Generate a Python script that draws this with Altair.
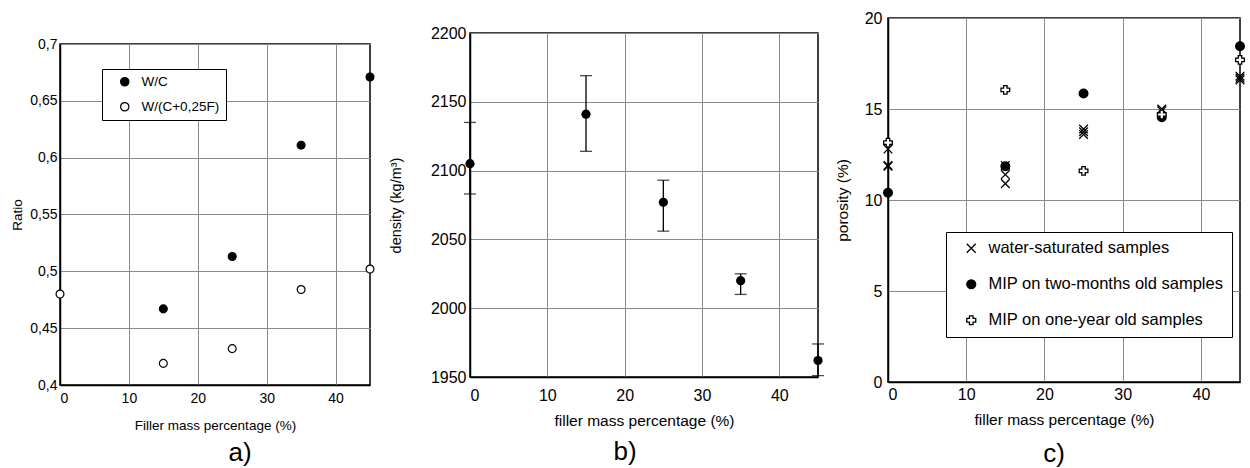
import altair as alt
import pandas as pd

FONT = "Liberation Sans"

# ---------------- data ----------------
# panel a
a_wc_filler = [15, 25, 35, 45]
a_wc = [0.467, 0.513, 0.611, 0.671]
a_wcf_filler = [0, 15, 25, 35, 45]
a_wcf = [0.480, 0.419, 0.432, 0.484, 0.502]
a_series = ["W/C", "W/(C+0,25F)"]
a_yticks = [0.4, 0.45, 0.5, 0.55, 0.6, 0.65, 0.7]

# panel b
b_filler = [0, 15, 25, 35, 45]
b_density = [2105, 2141, 2077, 2020, 1962]
b_low = [2083, 2114, 2056, 2010, 1951]
b_high = [2135, 2169, 2093, 2025, 1974]
b_yticks = [1950, 2000, 2050, 2100, 2150, 2200]

# panel c
c_ws_filler = [0, 0, 0, 15, 15, 15, 25, 25, 25, 35, 35, 45, 45, 45]
c_ws = [12.8, 11.9, 11.85, 11.9, 11.4, 10.9, 13.9, 13.75, 13.6, 15.0, 14.9, 16.8, 16.6, 16.7]
c_mip_filler = [0, 15, 25, 35, 45]
c_mip2 = [10.4, 11.85, 15.85, 14.55, 18.45]
c_mip1 = [13.15, 16.05, 11.6, 14.7, 17.7]
c_series = ["water-saturated samples", "MIP on two-months old samples", "MIP on one-year old samples"]
c_yticks = [0, 5, 10, 15, 20]

x_ticks = [0, 10, 20, 30, 40]


# ---------------- helpers ----------------
def spacer(h):
    return alt.Chart(pd.DataFrame({"v": [0]}), view=alt.ViewBackground(stroke="transparent")).mark_point(
        opacity=0, size=1
    ).encode(
        x=alt.X("v:Q", axis=None), y=alt.Y("v:Q", axis=None)
    ).properties(width=1, height=h)


# ---------------- panel a ----------------
df_a = pd.DataFrame({
    "fa": a_wc_filler + a_wcf_filler,
    "ratio": a_wc + a_wcf,
    "sa": [a_series[0]] * len(a_wc) + [a_series[1]] * len(a_wcf),
})
ax_a = alt.Axis(values=x_ticks, title="Filler mass percentage (%)", labelFontSize=14,
                titleFontSize=13.5, labelPadding=6, titlePadding=13)
ay_a = alt.Axis(values=a_yticks, title="Ratio", labelFontSize=14, titleFontSize=13.5,
                labelPadding=3, titlePadding=5,
                labelExpr="replace(format(datum.value, '.2~f'), '.', ',')")
leg_a = alt.Legend(title=None, orient="none", legendX=42, legendY=25,
                   fillColor="white", strokeColor="black", padding=6,
                   symbolOffset=10, labelFontSize=13.5, labelFont=FONT,
                   labelColor="black", rowPadding=10, symbolType="circle",
                   symbolStrokeWidth=1.2, symbolSize=70, labelOffset=10, labelLimit=300)
chart_a = alt.Chart(df_a).mark_point(filled=True, shape="circle", size=62,
                                     strokeWidth=1.2, opacity=1).encode(
    x=alt.X("fa:Q", scale=alt.Scale(domain=[0, 45], nice=False, zero=False), axis=ax_a),
    y=alt.Y("ratio:Q", scale=alt.Scale(domain=[0.4, 0.7], nice=False, zero=False), axis=ay_a),
    fill=alt.Fill("sa:N", scale=alt.Scale(domain=a_series, range=["black", "white"]), legend=leg_a),
    stroke=alt.Stroke("sa:N", scale=alt.Scale(domain=a_series, range=["black", "black"]), legend=leg_a),
).properties(
    width=310, height=341,
    title=alt.TitleParams("a)", orient="bottom", fontSize=26, frame="group", dx=25, offset=8),
)

# ---------------- panel b ----------------
df_b = pd.DataFrame({"fb": b_filler, "dens": b_density, "lo": b_low, "hi": b_high})
ax_b = alt.Axis(values=x_ticks, title="filler mass percentage (%)", labelFontSize=16,
                titleFontSize=15.5, labelPadding=10, titlePadding=10)
ay_b = alt.Axis(values=b_yticks, title="density (kg/m³)", labelFontSize=16, format="d",
                titleFontSize=14.5, labelPadding=4, titlePadding=27)
xs_b = alt.Scale(domain=[0, 45], nice=False, zero=False)
ys_b = alt.Scale(domain=[1950, 2200], nice=False, zero=False)
base_b = alt.Chart(df_b)
rule_b = base_b.mark_rule(color="black", strokeWidth=1.3).encode(
    x=alt.X("fb:Q", scale=xs_b, axis=ax_b),
    y=alt.Y("lo:Q", scale=ys_b, axis=ay_b),
    y2="hi:Q",
)
cap_lo = base_b.mark_tick(orient="horizontal", size=12, thickness=1.3, color="black").encode(
    x=alt.X("fb:Q", scale=xs_b, axis=ax_b),
    y=alt.Y("lo:Q", scale=ys_b, axis=ay_b),
)
cap_hi = base_b.mark_tick(orient="horizontal", size=12, thickness=1.3, color="black").encode(
    x=alt.X("fb:Q", scale=xs_b, axis=ax_b),
    y=alt.Y("hi:Q", scale=ys_b, axis=ay_b),
)
pts_b = base_b.mark_point(filled=True, shape="circle", size=85, color="black", opacity=1).encode(
    x=alt.X("fb:Q", scale=xs_b, axis=ax_b),
    y=alt.Y("dens:Q", scale=ys_b, axis=ay_b),
)
chart_b = alt.layer(rule_b, cap_lo, cap_hi, pts_b).properties(
    width=348, height=344,
    title=alt.TitleParams("b)", orient="bottom", fontSize=26, frame="group", dx=-19, offset=10),
)

# ---------------- panel c ----------------
df_c = pd.DataFrame({
    "fc": c_ws_filler + c_mip_filler + c_mip_filler,
    "por": c_ws + c_mip2 + c_mip1,
    "sc": [c_series[0]] * len(c_ws) + [c_series[1]] * len(c_mip2) + [c_series[2]] * len(c_mip1),
})
ax_c = alt.Axis(values=x_ticks, title="filler mass percentage (%)", labelFontSize=16,
                titleFontSize=15.5, labelPadding=4, titlePadding=10)
ay_c = alt.Axis(values=c_yticks, title="porosity (%)", labelFontSize=16,
                titleFontSize=15.5, labelPadding=6, titlePadding=14)
leg_c = alt.Legend(title=None, orient="none", legendX=58, legendY=214, fillColor="white",
                   strokeColor="black", padding=8, symbolOffset=9, labelFontSize=16.5,
                   labelFont=FONT, labelColor="black", rowPadding=19,
                   symbolStrokeWidth=1.3, symbolSize=80,
                   labelOffset=9, labelLimit=400)
chart_c = alt.Chart(df_c).mark_point(filled=True, strokeWidth=1.3, size=75, opacity=1).encode(
    x=alt.X("fc:Q", scale=alt.Scale(domain=[0, 45], nice=False, zero=False), axis=ax_c),
    y=alt.Y("por:Q", scale=alt.Scale(domain=[0, 20], nice=False, zero=False), axis=ay_c),
    shape=alt.Shape("sc:N", scale=alt.Scale(domain=c_series,
                                            range=["M-1,-1L1,1M-1,1L1,-1", "circle", "cross"]),
                    legend=leg_c),
    fill=alt.Fill("sc:N", scale=alt.Scale(domain=c_series, range=["transparent", "black", "white"]),
                  legend=leg_c),
    stroke=alt.Stroke("sc:N", scale=alt.Scale(domain=c_series, range=["black", "black", "black"]),
                      legend=leg_c),
).properties(
    width=352, height=364,
    title=alt.TitleParams("c)", orient="bottom", fontSize=26, frame="group", dx=-10, offset=13),
)

col_a = alt.vconcat(spacer(17), chart_a, spacing=0).resolve_scale(fill="independent", stroke="independent")
col_b = alt.vconcat(spacer(5), chart_b, spacing=0)

chart = alt.hconcat(col_a, col_b, chart_c, spacing=9).resolve_scale(
    x="independent", y="independent", fill="independent", shape="independent", stroke="independent"
).properties(
    padding={"left": 10, "top": 9, "right": 0, "bottom": 0}
).configure_view(
    stroke="black", strokeWidth=1.5
).configure_axis(
    grid=True, gridColor="#8a8a8a", gridWidth=1, domain=True, domainColor="black",
    domainWidth=1.5, ticks=False, labelFont=FONT, titleFont=FONT, labelColor="black",
    titleColor="black", titleFontWeight=400
).configure_title(
    font=FONT, fontWeight=400, color="black"
)

chart.save("out.html", embed_options={"renderer": "svg", "actions": False})
